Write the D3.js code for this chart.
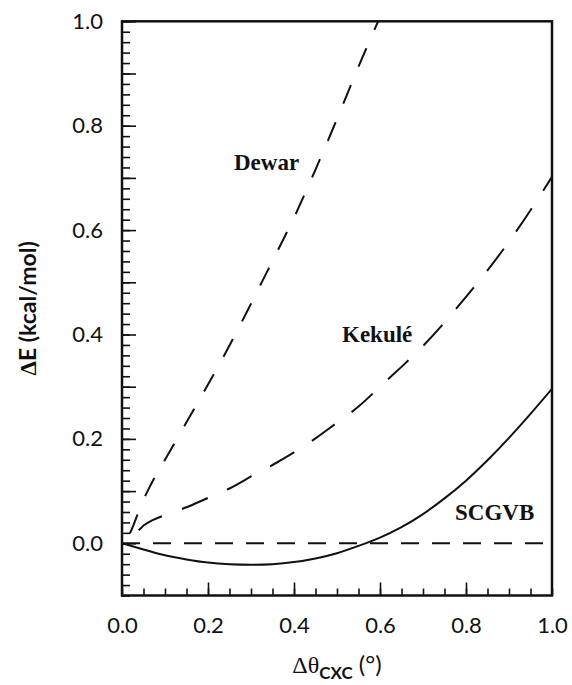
<!DOCTYPE html>
<html>
<head>
<meta charset="utf-8">
<script src="https://cdn.jsdelivr.net/npm/d3@7"></script>
<style>
  body { margin: 0; background: #fff; }
  text { fill: #111; }
</style>
</head>
<body>
<script>
// values
var xKekule = [0, 0.04, 0.05, 0.07, 0.1, 0.15, 0.2, 0.25, 0.3, 0.35, 0.4, 0.45, 0.5, 0.55, 0.6, 0.65, 0.7, 0.75, 0.8, 0.85, 0.9, 0.95, 1.0]
var yKekule = [0, 0.026, 0.034, 0.044, 0.054, 0.069, 0.087, 0.105, 0.128, 0.150, 0.174, 0.201, 0.231, 0.262, 0.300, 0.338, 0.378, 0.423, 0.472, 0.523, 0.578, 0.638, 0.702]

var xDewar = [0, 0.02, 0.04, 0.06, 0.08, 0.1, 0.15, 0.2, 0.25, 0.3, 0.35, 0.4, 0.45, 0.5, 0.55, 0.6]
var yDewar = [0, 0.022, 0.064, 0.101, 0.132, 0.16, 0.232, 0.304, 0.379, 0.459, 0.541, 0.624, 0.716, 0.813, 0.913, 1.008]

var xScgvb = [0, 0.05, 0.1, 0.15, 0.2, 0.25, 0.3, 0.35, 0.4, 0.45, 0.5, 0.55, 0.6, 0.65, 0.7, 0.75, 0.8, 0.85, 0.9, 0.95, 1.0]
var yScgvb = [0, -0.012, -0.023, -0.031, -0.037, -0.040, -0.041, -0.040, -0.036, -0.029, -0.019, -0.005, 0.011, 0.031, 0.056, 0.086, 0.120, 0.159, 0.202, 0.248, 0.296]

var xTickLabels = [0, 0.2, 0.4, 0.6, 0.8, 1.0]
var yTickLabels = [0, 0.2, 0.4, 0.6, 0.8, 1.0]

var W = 572, H = 685
var mLeft = 122, mRight = 552, mTop = 21.3, mBottom = 595.5

var svg = d3.select("body").append("svg")
            .attr("width", W)
            .attr("height", H)

var x = d3.scaleLinear().domain([0, 1]).range([mLeft, mRight])
var y = d3.scaleLinear().domain([-0.1, 1.0]).range([mBottom, mTop])

var sans = "Lato, 'Noto Sans', sans-serif"
var serif = "'Liberation Serif', 'DejaVu Serif', serif"

// ticks, pointing inward
var tickAxis = (axis, pos, vals, len) => {
    var g = svg.append("g").attr("transform", pos)
        .call(axis.tickValues(vals).tickSize(-len).tickFormat(""))
    g.select(".domain").remove()
    g.selectAll("line").attr("stroke", "#111").attr("stroke-width", 1.6)
}
var xMinor = d3.range(0, 21).map(i => i * 0.05)
var xMajor = [0.2, 0.4, 0.6, 0.8]
var yMinor = d3.range(0, 56).map(i => -0.1 + i * 0.02)
var yMajor = d3.range(0, 11).map(i => i * 0.1)
tickAxis(d3.axisBottom(x), `translate(0,${mBottom})`, xMinor, 7)
tickAxis(d3.axisBottom(x), `translate(0,${mBottom})`, xMajor, 13)
tickAxis(d3.axisLeft(y), `translate(${mLeft},0)`, yMinor, 8)
tickAxis(d3.axisLeft(y), `translate(${mLeft},0)`, yMajor, 14)

// tick labels
var gx = svg.append("g").attr("transform", `translate(0,${mBottom})`)
    .call(d3.axisBottom(x).tickValues(xTickLabels).tickSize(0).tickPadding(22).tickFormat(d3.format(".1f")))
gx.select(".domain").remove()
gx.selectAll("text").attr("font-family", sans).attr("font-size", 22).attr("fill", "#111")

var gy = svg.append("g").attr("transform", `translate(${mLeft},0)`)
    .call(d3.axisLeft(y).tickValues(yTickLabels).tickSize(0).tickPadding(19).tickFormat(d3.format(".1f")))
gy.select(".domain").remove()
gy.selectAll("text").attr("font-family", sans).attr("font-size", 22).attr("fill", "#111")

// clip
svg.append("clipPath").attr("id", "plot")
    .append("rect").attr("x", mLeft).attr("y", mTop).attr("width", mRight - mLeft).attr("height", mBottom - mTop)

var line = d3.line().x(d => x(d[0])).y(d => y(d[1])).curve(d3.curveNatural)
var plot = svg.append("g").attr("clip-path", "url(#plot)")

// zero line
plot.append("path")
    .attr("d", line([[0, 0], [1, 0]]))
    .attr("fill", "none").attr("stroke", "#111").attr("stroke-width", 2)
    .attr("stroke-dasharray", "18,13")

plot.append("path")
    .attr("d", line(d3.zip(xScgvb, yScgvb)))
    .attr("fill", "none").attr("stroke", "#111").attr("stroke-width", 2)

plot.append("path")
    .attr("d", line(d3.zip(xKekule, yKekule)))
    .attr("fill", "none").attr("stroke", "#111").attr("stroke-width", 2)
    .attr("stroke-dasharray", "28,21").attr("stroke-dashoffset", 28)

plot.append("path")
    .attr("d", line(d3.zip(xDewar, yDewar)))
    .attr("fill", "none").attr("stroke", "#111").attr("stroke-width", 2)
    .attr("stroke-dasharray", "20,20").attr("stroke-dashoffset", 27)

// frame
svg.append("rect")
    .attr("x", mLeft).attr("y", mTop).attr("width", mRight - mLeft).attr("height", mBottom - mTop)
    .attr("fill", "none").attr("stroke", "#111").attr("stroke-width", 2.5)

// curve labels
var label = (t, px, py) => svg.append("text").text(t)
    .attr("x", px).attr("y", py)
    .attr("font-family", serif).attr("font-weight", "bold").attr("font-size", 23)
label("Dewar", 234, 170)
label("Kekulé", 342, 342)
label("SCGVB", 455, 520)

// axis titles
var xt = svg.append("text").attr("x", (mLeft + mRight) / 2).attr("y", 673)
    .attr("text-anchor", "middle").attr("font-family", sans).attr("font-size", 24)
xt.append("tspan").attr("font-family", serif).text("Δθ")
xt.append("tspan").attr("font-weight", "bold").attr("font-size", 17).attr("dy", 6).text("CXC")
xt.append("tspan").attr("dy", -6).text(" (°)")

var yt = svg.append("text")
    .attr("transform", `translate(36,${(mTop + mBottom) / 2}) rotate(-90)`)
    .attr("text-anchor", "middle").attr("font-family", sans).attr("font-weight", "bold").attr("font-size", 23)
yt.append("tspan").attr("font-family", serif).text("Δ")
yt.append("tspan").text("E (kcal/mol)")
</script>
</body>
</html>
